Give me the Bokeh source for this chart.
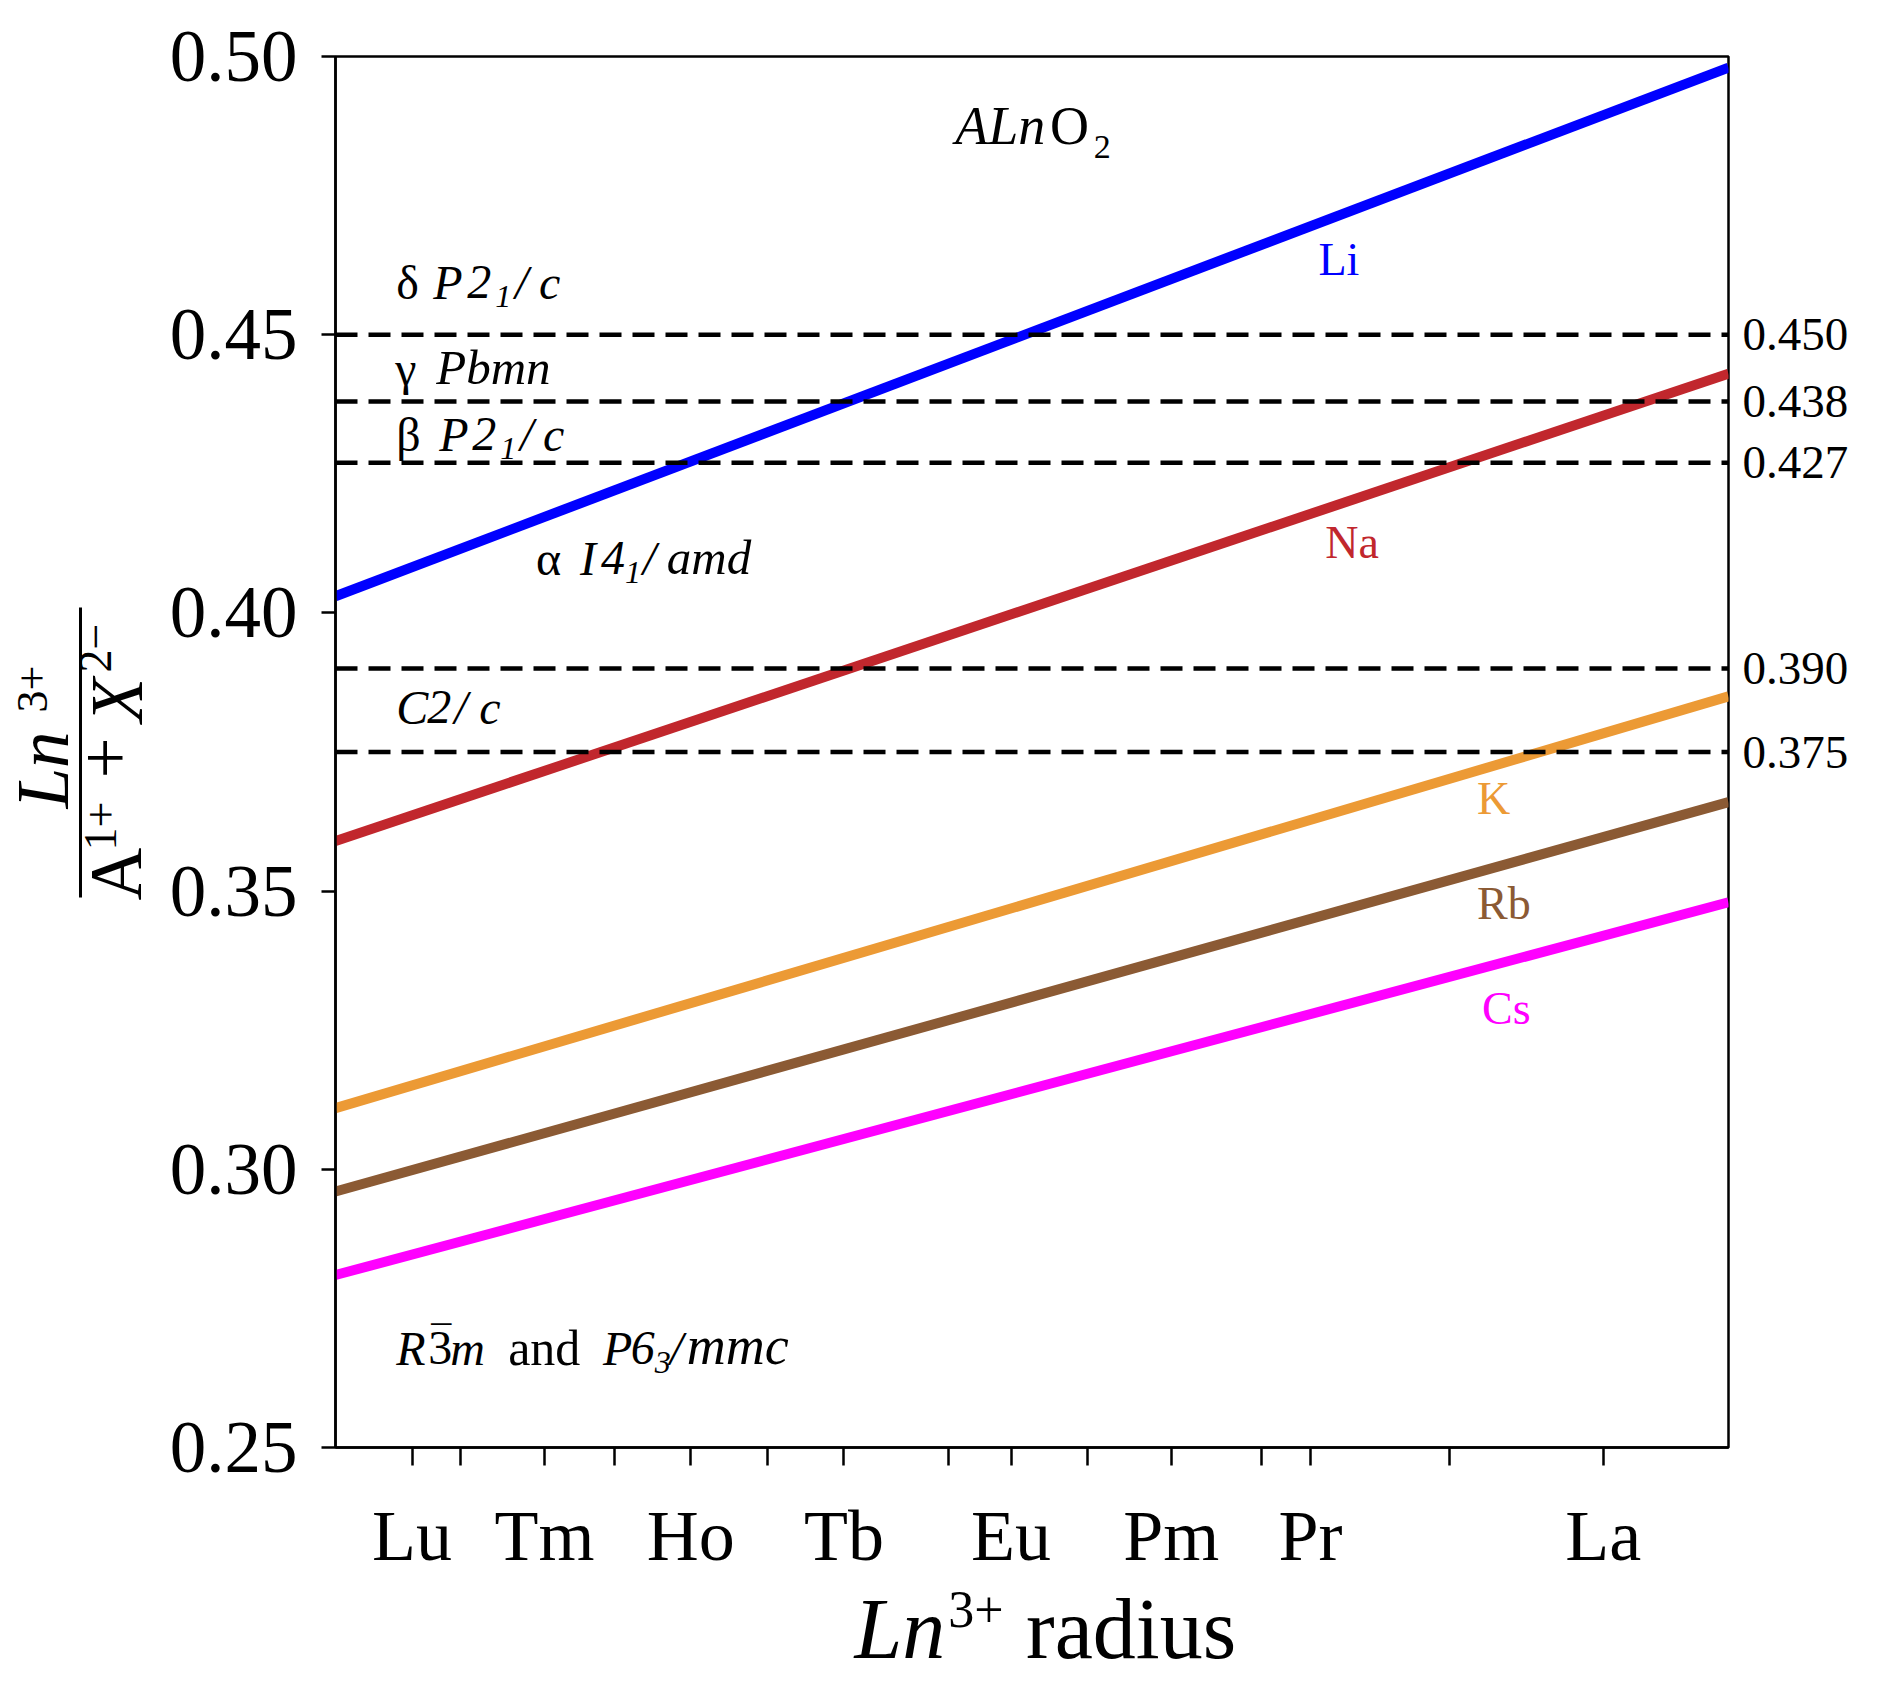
import math
from bokeh.plotting import figure
from bokeh.layouts import row, column
from bokeh.models import (FixedTicker, NumeralTickFormatter, LinearAxis, Span,
                          Label, Range1d)
from bokeh.embed import file_html
from bokeh.resources import INLINE

# ---------------- data ----------------
ln_names = ["Lu", "Yb", "Tm", "Er", "Ho", "Dy", "Tb", "Gd", "Eu", "Sm", "Pm", "Nd", "Pr", "Ce", "La"]
ln_radius = [0.861, 0.868, 0.880, 0.890, 0.901, 0.912, 0.923, 0.938, 0.947, 0.958,
             0.970, 0.983, 0.990, 1.010, 1.032]
ln_shown = ["Lu", "", "Tm", "", "Ho", "", "Tb", "", "Eu", "", "Pm", "", "Pr", "", "La"]

x_ends = [0.85, 1.05]
series_names = ["Li", "Na", "K", "Rb", "Cs"]
series_colors = ["#0000ff", "#c1272d", "#ec9a35", "#8b5a34", "#ff00ff"]
li_vals = [0.403, 0.498]
na_vals = [0.359, 0.443]
k_vals = [0.311, 0.385]
rb_vals = [0.296, 0.366]
cs_vals = [0.281, 0.348]
series_vals = [li_vals, na_vals, k_vals, rb_vals, cs_vals]

boundaries = [0.450, 0.438, 0.427, 0.390, 0.375]
y_ticks = [0.25, 0.30, 0.35, 0.40, 0.45, 0.50]

# ---------------- layout (page pixels) ----------------
WY = 166                     # width of the y-label strip
FL, FT, FW, FH = 332, 56, 1396, 1391
PB = 132                     # bottom border of the main plot
PR = 145                     # right border of the main plot
PW = (FL - WY) + FW + PR
PH = FT + FH + PB
HX = 113                     # height of the x-label strip
TOTAL_H = PH + HX
X0, X1, Y0, Y1 = 0.85, 1.05, 0.25, 0.50
FONT = "Liberation Serif"
K = 0.4                      # baseline correction factor for labels

p = figure(width=PW, height=PH,
           x_range=Range1d(X0, X1), y_range=Range1d(Y0, Y1),
           output_backend="svg", toolbar_location=None,
           min_border_left=FL - WY, min_border_top=FT,
           min_border_right=PR, min_border_bottom=PB)
p.background_fill_color = "white"
p.border_fill_color = "white"
p.grid.visible = False
p.outline_line_color = "black"
p.outline_line_width = 2.5
p.outline_line_alpha = 1.0

# x axis
xa = p.xaxis[0]
xa.ticker = FixedTicker(ticks=ln_radius)
xa.major_label_overrides = {r: s for r, s in zip(ln_radius, ln_shown)}
xa.major_tick_in = 0
xa.major_tick_out = 18
xa.major_tick_line_width = 2.5
xa.axis_line_width = 2.5
xa.major_label_text_font = FONT
xa.major_label_text_font_size = "72px"
xa.major_label_text_color = "black"
xa.major_label_standoff = 30
xa.minor_tick_line_color = None

# y axis
ya = p.yaxis[0]
ya.ticker = FixedTicker(ticks=y_ticks)
ya.formatter = NumeralTickFormatter(format="0.00")
ya.major_tick_in = 0
ya.major_tick_out = 14
ya.major_tick_line_width = 2.5
ya.axis_line_width = 2.5
ya.major_label_text_font = FONT
ya.major_label_text_font_size = "73px"
ya.major_label_text_color = "black"
ya.major_label_standoff = 24
ya.minor_tick_line_color = None

# right axis with boundary values
ra = LinearAxis(ticker=FixedTicker(ticks=boundaries),
                formatter=NumeralTickFormatter(format="0.000"),
                axis_line_color=None, major_tick_line_color=None,
                minor_tick_line_color=None,
                major_tick_in=0, major_tick_out=0, major_label_standoff=14,
                major_label_text_font=FONT, major_label_text_font_size="47px",
                major_label_text_color="black")
p.add_layout(ra, "right")

# series lines
for name, col, vals in zip(series_names, series_colors, series_vals):
    p.line(x_ends, vals, line_color=col, line_width=10)

# boundary dashed lines
for b in boundaries:
    p.add_layout(Span(location=b, dimension="width", line_color="black",
                      line_width=4.5, line_dash="22 11"))


def px2x(px):
    return X0 + (px - FL) / FW * (X1 - X0)


def py2y(py):
    return Y1 - (py - FT) / FH * (Y1 - Y0)


def put(txt, px, py, size, style="normal", color="black"):
    p.add_layout(Label(x=px2x(px), y=py2y(py - K * size), text=txt, text_font=FONT,
                       text_font_size=f"{size}px", text_font_style=style,
                       text_color=color, text_align="left",
                       text_baseline="alphabetic"))


# series labels
series_label_pos = [(1317, 277), (1324, 560), (1476, 816), (1476, 921), (1481, 1026)]
for name, col, (lx, ly) in zip(series_names, series_colors, series_label_pos):
    put(name, lx, ly, 46, color=col)

# compound title
put("ALn", 953, 147, 54, "italic")
put("O", 1048, 147, 54)
put("2", 1092, 160, 34)

# phase labels
S = 48
SS = 32
put("δ", 393, 301, S)
put("P", 430, 301, S, "italic")
put("2", 464, 301, S, "italic")
put("1", 492, 309, SS, "italic")
put("/", 512, 301, S, "italic")
put("c", 536, 301, S, "italic")

put("γ", 392, 387, S)
put("Pbmn", 433, 387, 49, "italic")

put("β", 393, 453, S)
put("P", 436, 453, S, "italic")
put("2", 469, 453, S, "italic")
put("1", 497, 461, SS, "italic")
put("/", 517, 453, S, "italic")
put("c", 540, 453, S, "italic")

put("α", 533, 577, S)
put("I", 577, 577, S, "italic")
put("4", 598, 577, S, "italic")
put("1", 622, 585, SS, "italic")
put("/", 640, 577, S, "italic")
put("amd", 664, 577, 49, "italic")

put("C", 393, 726, S, "italic")
put("2", 424, 726, S, "italic")
put("/", 451, 726, S, "italic")
put("c", 476, 726, S, "italic")

put("R", 393, 1367, S, "italic")
put("3", 425, 1367, S)
put("¯", 428, 1356, 40)
put("m", 447, 1367, S, "italic")
put("and", 505, 1367, 50)
put("P", 600, 1367, S, "italic")
put("6", 628, 1367, S, "italic")
put("3", 652, 1375, SS, "italic")
put("/", 667, 1367, S, "italic")
put("mmc", 684, 1367, 54, "italic")

# ---------------- y-label strip (page coordinates) ----------------
fy = figure(width=WY, height=TOTAL_H, x_range=Range1d(0, WY),
            y_range=Range1d(TOTAL_H, 0), x_axis_type=None, y_axis_type=None,
            output_backend="svg", toolbar_location=None,
            min_border_left=0, min_border_right=0, min_border_top=0,
            min_border_bottom=0)
fy.outline_line_color = None
fy.background_fill_color = "white"
fy.border_fill_color = "white"

A90 = math.pi / 2


def putr(txt, bx, sy, size, style="normal"):
    fy.add_layout(Label(x=bx - K * size, y=sy, text=txt, text_font=FONT,
                        text_font_size=f"{size}px", text_font_style=style,
                        text_color="black", text_align="left",
                        text_baseline="alphabetic", angle=A90, angle_units="rad"))


putr("Ln", 72, 808, 73, "italic")
putr("3+", 50, 712, 44)
putr("A", 145, 900, 73)
putr("1+", 118, 850, 46)
putr("+", 134, 778, 73)
putr("X", 146, 722, 73, "italic")
putr("2\u2212", 113, 672, 46)
fy.line([80, 80], [607, 897], line_color="black", line_width=3)

# ---------------- x-label strip (shares the x scale of the plot) ----------------
fx = figure(width=PW, height=HX, x_range=p.x_range,
            y_range=Range1d(PH + HX, PH), x_axis_type=None, y_axis_type=None,
            output_backend="svg", toolbar_location=None,
            min_border_left=FL - WY, min_border_right=PR, min_border_top=0,
            min_border_bottom=0)
fx.outline_line_color = None
fx.background_fill_color = "white"
fx.border_fill_color = "white"


def putx(txt, px, py, size, style="normal"):
    fx.add_layout(Label(x=px2x(px), y=py - K * size, text=txt, text_font=FONT,
                        text_font_size=f"{size}px", text_font_style=style,
                        text_color="black", text_align="left",
                        text_baseline="alphabetic"))


putx("Ln", 852, 1663, 86, "italic")
putx("3+", 946, 1630, 52)
putx("radius", 1024, 1663, 86)

layout = row(fy, column(p, fx))
open("out.html", "w").write(file_html(layout, INLINE))
